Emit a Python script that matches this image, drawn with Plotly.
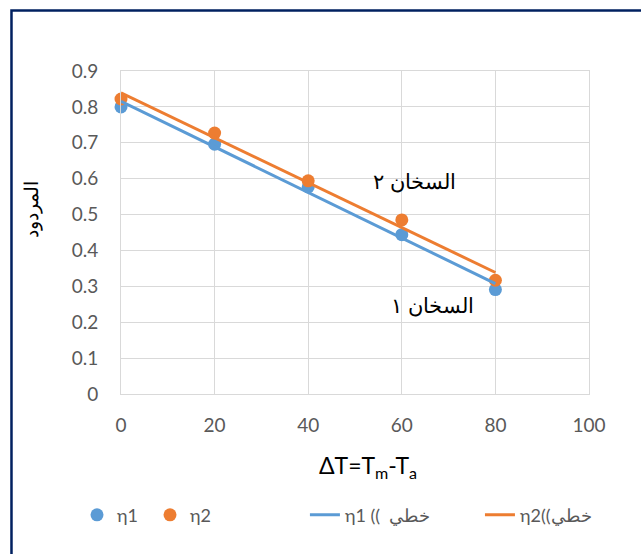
import numpy as np
import plotly.graph_objects as go

# Data
dT = [0, 20, 40, 60, 80]
eta1 = [0.80, 0.696, 0.577, 0.444, 0.291]
eta2 = [0.822, 0.727, 0.594, 0.485, 0.317]
x_ticks = [0, 20, 40, 60, 80, 100]
y_ticks = [0, 0.1, 0.2, 0.3, 0.4, 0.5, 0.6, 0.7, 0.8, 0.9]
y_tick_text = ["0", "0.1", "0.2", "0.3", "0.4", "0.5", "0.6", "0.7", "0.8", "0.9"]
names = ["η1", "η2", "η1 ((  خطي", "η2((خطي"]
ann_labels = ["السخان ٢", "السخان ١"]
ann_pos = [(62.8, 0.593), (66.5, 0.248)]

BLUE = "#5B9BD5"
ORANGE = "#ED7D31"
GRID = "#D9D9D9"
TXT = "#595959"
FONT = "Lato, 'Open Sans', sans-serif"
AR_FONT = "'Liberation Sans', Arial, sans-serif"

# linear trendlines (least squares)
p1 = np.polyfit(dT, eta1, 1)
p2 = np.polyfit(dT, eta2, 1)
trend1 = np.polyval(p1, dT)
trend2 = np.polyval(p2, dT)

fig = go.Figure()
fig.add_trace(go.Scatter(x=dT, y=eta1, mode="markers", name=names[0], legend="legend",
                         cliponaxis=False, marker=dict(color=BLUE, size=13)))
fig.add_trace(go.Scatter(x=dT, y=eta2, mode="markers", name=names[1], legend="legend2",
                         cliponaxis=False, marker=dict(color=ORANGE, size=13)))
fig.add_trace(go.Scatter(x=dT, y=trend1, mode="lines", name=names[2], legend="legend3",
                         cliponaxis=False, line=dict(color=BLUE, width=3)))
fig.add_trace(go.Scatter(x=dT, y=trend2, mode="lines", name=names[3], legend="legend4",
                         cliponaxis=False, line=dict(color=ORANGE, width=3)))

for txt, (ax, ay) in zip(ann_labels, ann_pos):
    fig.add_annotation(x=ax, y=ay, text=txt, showarrow=False,
                       font=dict(family=AR_FONT, size=21, color="black"))

# axis titles
fig.add_annotation(xref="paper", yref="paper", x=0.528, y=-0.223, yanchor="middle",
                   text="ΔT=T<sub>m</sub>-T<sub>a</sub>", showarrow=False,
                   font=dict(family=FONT, size=23, color="black"))
fig.add_annotation(xref="paper", yref="paper", x=-0.19, y=0.57, xanchor="center",
                   text="المردود", textangle=-90, showarrow=False,
                   font=dict(family=AR_FONT, size=19, color="black"))

# outer border
fig.add_shape(type="rect", xref="paper", yref="paper",
              x0=-0.234, x1=1.3, y0=-0.7, y1=1.187,
              line=dict(color="#002060", width=2.5), layer="below")

leg_common = dict(orientation="h", y=-0.375, yanchor="middle", xanchor="left",
                  font=dict(family=FONT, size=18, color=TXT), itemclick=False,
                  bgcolor="rgba(0,0,0,0)")
fig.update_layout(
    width=641, height=554,
    margin=dict(l=121, r=52, t=71, b=160),
    paper_bgcolor="white", plot_bgcolor="white",
    showlegend=True,
    legend=dict(x=-0.094, **leg_common),
    legend2=dict(x=0.062, **leg_common),
    legend3=dict(x=0.393, **leg_common),
    legend4=dict(x=0.767, **leg_common),
    font=dict(family=FONT, color=TXT),
)
fig.update_xaxes(range=[0, 100], tickvals=x_ticks, showgrid=True, gridcolor=GRID, gridwidth=1,
                 zeroline=False, showline=True, linecolor=GRID, mirror=True, ticks="",
                 ticklabelstandoff=14, tickfont=dict(family=FONT, size=19, color=TXT))
fig.update_yaxes(range=[0, 0.9], tickvals=y_ticks, ticktext=y_tick_text, showgrid=True,
                 gridcolor=GRID, gridwidth=1, zeroline=False, showline=True, linecolor=GRID,
                 mirror=True, ticks="", ticklabelstandoff=18,
                 tickfont=dict(family=FONT, size=19, color=TXT))

fig.write_html("out.html", post_script="document.body.style.margin='0';",
               config={"displayModeBar": False})
